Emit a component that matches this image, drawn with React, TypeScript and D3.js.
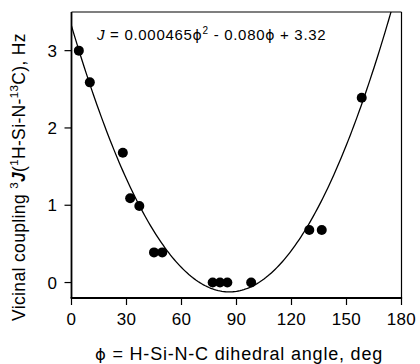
import React from "react";
import * as d3 from "d3";

const phi = [4, 10, 28, 32, 37, 45, 49.5, 77, 81, 85, 98, 129.7, 136.5, 158.3];
const coupling = [3.0, 2.59, 1.68, 1.09, 0.99, 0.39, 0.39, 0.0, 0.0, 0.0, 0.0, 0.68, 0.68, 2.39];
const xTicks = [0, 30, 60, 90, 120, 150, 180];
const yTicks = [0, 1, 2, 3];
const fitA = 0.000465;
const fitB = -0.08;
const fitC = 3.32;

const W = 420;
const H = 364;
const left = 71.5;
const right = 401.5;
const top = 12;
const bottom = 298;
const FONT = "'Liberation Sans', Arial, Helvetica, sans-serif";
const PHI_FONT = "'DejaVu Sans', sans-serif";

export default function App() {
  const x = d3.scaleLinear().domain([0, 180]).range([left, right]);
  const y = d3.scaleLinear().domain([-0.2, 3.5]).range([bottom, top]);
  const fitPts: [number, number][] = d3.range(0, 180.5, 1).map((p) => [p, fitA * p * p + fitB * p + fitC]);
  const line = d3
    .line<[number, number]>()
    .x((d) => x(d[0]))
    .y((d) => y(d[1]));

  return (
    <svg
      width={W}
      height={H}
      style={{ position: "absolute", left: 0, top: 0, background: "#fff" }}
      fontFamily={FONT}
    >
      <defs>
        <clipPath id="plotClip">
          <rect x={left} y={top} width={right - left} height={bottom - top} />
        </clipPath>
      </defs>
      <rect x={0} y={0} width={W} height={H} fill="#fff" />
      {/* box */}
      <line x1={left} x2={right} y1={top} y2={top} stroke="#000" strokeWidth={1.2} />
      <line x1={right} x2={right} y1={top} y2={bottom} stroke="#000" strokeWidth={1.2} />
      <line x1={left} x2={left} y1={top} y2={bottom} stroke="#000" strokeWidth={1.8} />
      <line x1={left - 0.9} x2={right + 0.6} y1={bottom} y2={bottom} stroke="#000" strokeWidth={1.8} />
      {/* x ticks */}
      {xTicks.map((t) => (
        <g key={"x" + t}>
          <line x1={x(t)} x2={x(t)} y1={bottom} y2={bottom + 7} stroke="#000" strokeWidth={1.2} />
          <text x={x(t)} y={325} textAnchor="middle" fontSize={17} letterSpacing={0.3}>
            {t}
          </text>
        </g>
      ))}
      {/* y ticks */}
      {yTicks.map((t) => (
        <g key={"y" + t}>
          <line x1={left - 7} x2={left} y1={y(t)} y2={y(t)} stroke="#000" strokeWidth={1.2} />
          <text x={57} y={y(t) + 6} textAnchor="end" fontSize={17}>
            {t}
          </text>
        </g>
      ))}
      {/* fit curve */}
      <path d={line(fitPts) || ""} fill="none" stroke="#000" strokeWidth={1.3} clipPath="url(#plotClip)" />
      {/* points */}
      {phi.map((p, i) => (
        <circle key={i} cx={x(p)} cy={y(coupling[i])} r={5} fill="#000" />
      ))}
      {/* equation */}
      <text x={97} y={40} fontSize={15} letterSpacing={0.7}>
        <tspan fontStyle="italic">J</tspan>
        <tspan> = 0.000465</tspan>
        <tspan fontFamily={PHI_FONT} fontSize={14}>ϕ</tspan>
        <tspan fontSize={10} dy={-6}>2</tspan>
        <tspan dy={6}> - 0.080</tspan>
        <tspan fontFamily={PHI_FONT} fontSize={14}>ϕ</tspan>
        <tspan> + 3.32</tspan>
      </text>
      {/* x label */}
      <text x={239} y={360} textAnchor="middle" fontSize={18} letterSpacing={0.8}>
        <tspan fontFamily={PHI_FONT} fontSize={16.5}>ϕ</tspan>
        <tspan> = H-Si-N-C dihedral angle, deg</tspan>
      </text>
      {/* y label */}
      <text transform="translate(25,177) rotate(-90)" textAnchor="middle" fontSize={17.5} letterSpacing={0.35}>
        <tspan>Vicinal coupling </tspan>
        <tspan fontSize={11.5} dy={-7}>3</tspan>
        <tspan dy={7} fontStyle="italic" fontWeight="bold">J</tspan>
        <tspan>(</tspan>
        <tspan fontSize={11.5} dy={-7}>1</tspan>
        <tspan dy={7}>H-Si-N-</tspan>
        <tspan fontSize={11.5} dy={-7}>13</tspan>
        <tspan dy={7}>C), Hz</tspan>
      </text>
    </svg>
  );
}
